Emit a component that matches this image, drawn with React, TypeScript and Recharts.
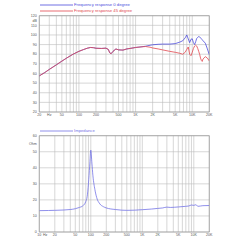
import { CartesianGrid, Legend, Line, LineChart, ReferenceArea, XAxis, YAxis } from "recharts";

// frequency response, 0 and 45 degree (dB)
const freqs = [
  20, 25, 30, 40, 50, 60, 70, 80, 100, 120, 140, 160, 180, 200, 250, 300, 330, 350, 370, 400, 450,
  500, 600, 700, 800, 1000, 1200, 1500, 1800, 2000, 2500, 3000, 4000, 5000, 6000, 6800, 7500, 8000,
  8500, 9000, 9500, 10000, 10500, 11000, 11500, 12000, 12500, 13000, 13500, 14000, 14500, 15000,
  15500, 17000, 18500, 20000,
];
const resp0 = [
  57.5, 61, 64.2, 69, 72.8, 75.8, 78.2, 80.2, 83, 84.8, 86.2, 87, 86.8, 86.2, 86, 86.3, 85, 81.5,
  80.5, 83, 85.5, 84.5, 84.3, 85.5, 86, 87, 87.5, 88.3, 89.3, 89.8, 90.3, 90.5, 90.5, 91, 92.5, 94,
  97, 100, 96, 92, 95.5, 96, 92, 90, 93, 96.5, 97.5, 98.3, 98, 97, 96, 95, 94, 91.5, 85.5, 79.5,
];
const resp45 = [
  57.5, 61, 64.2, 69, 72.8, 75.8, 78.2, 80.2, 83, 84.8, 86.2, 87, 86.8, 86.2, 86, 86.3, 85, 81.5,
  80.5, 83, 85.5, 84.5, 84.3, 85.5, 86, 87, 87.5, 88, 87.3, 86.5, 85.5, 84.5, 83, 82, 81, 80, 82,
  85, 87.5, 80, 78.5, 82, 86, 88.5, 89.5, 88.5, 86, 83, 80, 76, 73.5, 72.5, 75, 77.5, 76, 73,
];

// impedance (Ohm)
const impFreqs = [
  10, 15, 20, 30, 40, 50, 60, 70, 80, 85, 90, 95, 100, 105, 110, 120, 130, 150, 175, 200, 300, 400,
  500, 700, 1000, 1500, 2000, 2500, 3000, 3500, 5000, 7000, 8000, 9000, 10000, 11000, 12000, 15000,
  20000,
];
const impedance = [
  13.3, 13.4, 13.5, 13.7, 14, 14.5, 15.3, 16.3, 19, 22, 30, 41, 51, 43, 35, 26.5, 21.5, 17.5, 15.8,
  15, 14, 13.6, 13.5, 13.6, 13.9, 14.3, 14.7, 15, 15.5, 15.3, 15.6, 16, 16.2, 16.8, 16.6, 17, 16,
  16.4, 16.5,
];

const splTicks = [20, 30, 40, 50, 60, 70, 80, 90, 100, 110, 115, 120];
const splLabels = ["20", "30", "40", "50", "60", "70", "80", "90", "100", "110", "dB", "120"];
const ohmTicks = [0, 10, 20, 30, 40, 50, 55, 60];
const ohmLabels = ["0", "10", "20", "30", "40", "50", "Ohm", "60"];
const topFreqTicks = [20, 30, 50, 100, 200, 500, 1000, 2000, 5000, 10000, 20000];
const topFreqLabels = ["20", "Hz", "50", "100", "200", "500", "1K", "2K", "5K", "10K", "20K"];
const botFreqTicks = [10, 13, 20, 50, 100, 200, 500, 1000, 2000, 5000, 10000, 20000];
const botFreqLabels = ["10", "Hz", "20", "50", "100", "200", "500", "1K", "2K", "5K", "10K", "20K"];

const decadeLines = (from: number, to: number) => {
  const out: number[] = [];
  for (let d = 1; d <= 10000; d *= 10) {
    for (let m = 1; m < 10; m++) {
      const v = m * d;
      if (v >= from && v <= to) out.push(v);
    }
  }
  return out;
};

const label = (ticks: number[], labels: string[]) => (v: number) => {
  const i = ticks.indexOf(v);
  return i >= 0 ? labels[i] : String(v);
};

const font = "'Liberation Sans', Arial, sans-serif";
const tickStyle = { fontSize: 3.6, fill: "#555", fontFamily: font };
const gridColor = "#bcbcbc";

const topData = freqs.map((f, i) => ({ f, a: resp0[i], b: resp45[i] }));
const impData = impFreqs.map((f, i) => ({ f, z: impedance[i] }));

function LegendBox(props: any) {
  const items = props.payload || [];
  return (
    <svg width={240} height={16} style={{ display: "block" }}>
      {items.map((it: any, i: number) => {
        const y = 11 - (items.length - 1 - i) * 6;
        return (
          <g key={it.value}>
            <line x1={40} x2={73} y1={y} y2={y} stroke={it.color} strokeWidth={0.8} />
            <text x={74} y={y} fontSize={4.2} fill={it.color} fontFamily={font} dominantBaseline="middle">
              {it.value}
            </text>
          </g>
        );
      })}
    </svg>
  );
}

const margin = { top: 15.7, right: 30.7, bottom: 0, left: 0 };

export default function App() {
  return (
    <div style={{ position: "fixed", left: 0, top: 0, width: 240, height: 240, background: "#fff" }}>
      <LineChart width={240} height={120} data={topData} margin={margin}>
        <CartesianGrid
          stroke={gridColor}
          strokeWidth={0.6}
          horizontalValues={[20, 30, 40, 50, 60, 70, 80, 90, 100, 110, 120]}
          verticalValues={decadeLines(20, 20000)}
        />
        <XAxis
          type="number"
          dataKey="f"
          scale="log"
          domain={[20, 20000]}
          ticks={topFreqTicks}
          tickFormatter={label(topFreqTicks, topFreqLabels)}
          interval={0}
          height={8}
          tickLine={false}
          axisLine={false}
          tickSize={0}
          tickMargin={1.5}
          tick={tickStyle}
          allowDataOverflow
        />
        <YAxis
          type="number"
          domain={[20, 120]}
          ticks={splTicks}
          tickFormatter={label(splTicks, splLabels)}
          interval={0}
          width={39.3}
          tickLine={false}
          axisLine={false}
          tickSize={0}
          tickMargin={2.5}
          tick={tickStyle}
          allowDataOverflow
        />
        <ReferenceArea x1={20} x2={20000} y1={20} y2={120} fill="none" stroke="#999" strokeWidth={0.7} />
        <Legend
          layout="horizontal"
          verticalAlign="middle"
          align="center"
          wrapperStyle={{ position: "absolute", top: 0, left: 0, width: 240, height: 16 }}
          content={(p: any) => <LegendBox {...p} />}
        />
        <Line
          name="Frequency response 0 degree"
          dataKey="a"
          type="linear"
          stroke="#4c4cdc"
          strokeWidth={0.8}
          dot={false}
          isAnimationActive={false}
        />
        <Line
          name="Frequency response 45 degree"
          dataKey="b"
          type="linear"
          stroke="#e2474f"
          strokeWidth={0.8}
          dot={false}
          isAnimationActive={false}
        />
      </LineChart>
      <LineChart width={240} height={120} data={impData} margin={margin}>
        <CartesianGrid
          stroke={gridColor}
          strokeWidth={0.6}
          horizontalValues={[0, 10, 20, 30, 40, 50, 60]}
          verticalValues={decadeLines(10, 20000)}
        />
        <XAxis
          type="number"
          dataKey="f"
          scale="log"
          domain={[10, 20000]}
          ticks={botFreqTicks}
          tickFormatter={label(botFreqTicks, botFreqLabels)}
          interval={0}
          height={8}
          tickLine={false}
          axisLine={false}
          tickSize={0}
          tickMargin={1.5}
          tick={tickStyle}
          allowDataOverflow
        />
        <YAxis
          type="number"
          domain={[0, 60]}
          ticks={ohmTicks}
          tickFormatter={label(ohmTicks, ohmLabels)}
          interval={0}
          width={39.3}
          tickLine={false}
          axisLine={false}
          tickSize={0}
          tickMargin={2.5}
          tick={tickStyle}
          allowDataOverflow
        />
        <ReferenceArea x1={10} x2={20000} y1={0} y2={60} fill="none" stroke="#999" strokeWidth={0.7} />
        <Legend
          layout="horizontal"
          verticalAlign="middle"
          align="center"
          wrapperStyle={{ position: "absolute", top: 0, left: 0, width: 240, height: 16 }}
          content={(p: any) => <LegendBox {...p} />}
        />
        <Line
          name="Impedance"
          dataKey="z"
          type="monotone"
          stroke="#7474e6"
          strokeWidth={0.8}
          dot={false}
          isAnimationActive={false}
        />
      </LineChart>
    </div>
  );
}
